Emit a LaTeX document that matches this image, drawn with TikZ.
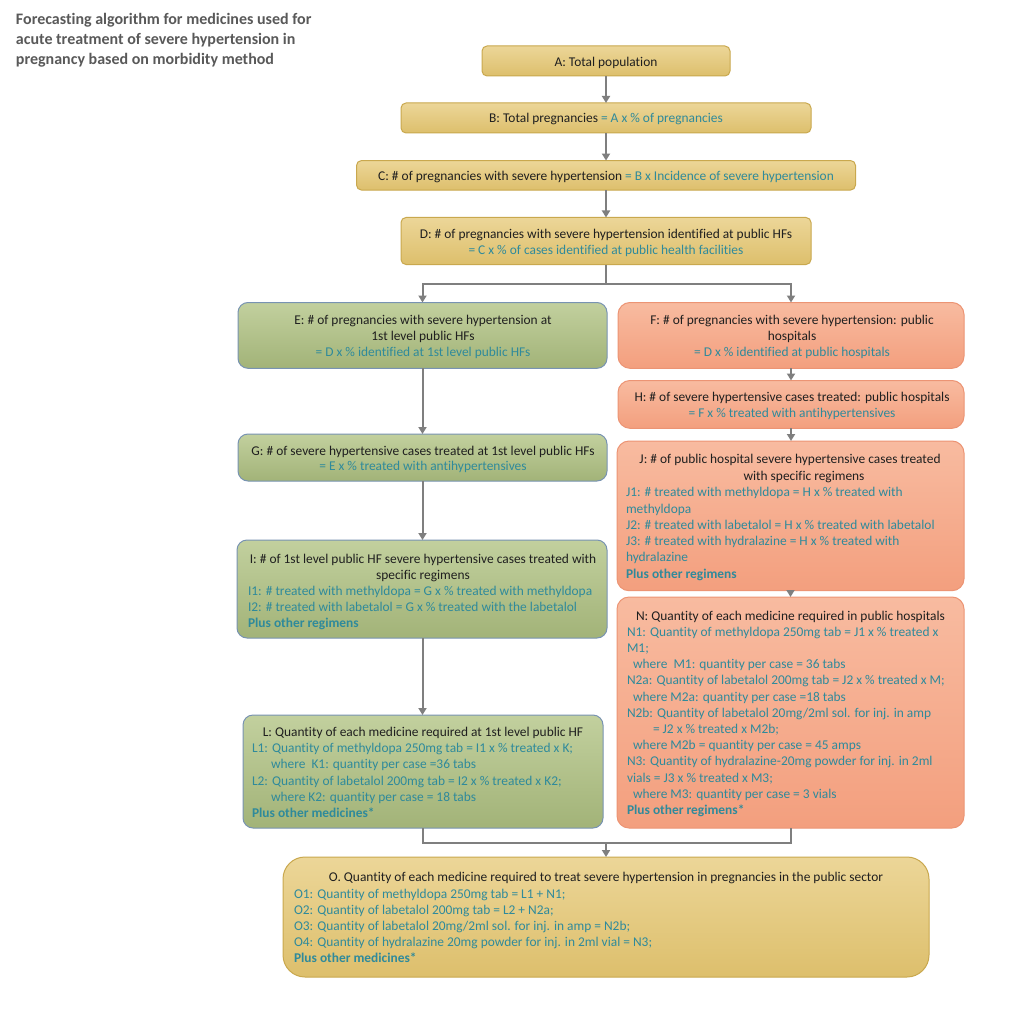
\documentclass[tikz,border=0pt]{standalone}
\usepackage{fontspec}
\setmainfont{Carlito}[Ligatures=NoCommon]
\usetikzlibrary{arrows.meta}
\definecolor{txtblack}{HTML}{1F1F1F}
\definecolor{tealc}{HTML}{2F8A9B}
\definecolor{titlegray}{HTML}{595959}
\definecolor{arrowgray}{HTML}{7F7F7F}
\definecolor{goldT}{HTML}{ECD698}
\definecolor{goldB}{HTML}{DDBF6C}
\definecolor{goldD}{HTML}{C9A84E}
\definecolor{greenT}{HTML}{C2D09E}
\definecolor{greenB}{HTML}{A2B378}
\definecolor{greenD}{HTML}{7893B2}
\definecolor{salT}{HTML}{F8BBA0}
\definecolor{salB}{HTML}{F39F7E}
\definecolor{salD}{HTML}{EC9474}
\tikzset{
  box/.style={inner sep=0pt, outer sep=0pt, line width=1pt},
  goldbox/.style={box, draw=goldD, top color=goldT, bottom color=goldB, rounded corners=5pt},
  obox/.style={box, draw=goldD, top color=goldT, bottom color=goldB, rounded corners=22pt},
  greenbox/.style={box, draw=greenD, top color=greenT, bottom color=greenB, rounded corners=10pt},
  salbox/.style={box, draw=salD, top color=salT, bottom color=salB, rounded corners=12pt},
  txt/.style={inner sep=0pt, outer sep=0pt, text=txtblack, font=\fontsize{13.4}{16.2}\selectfont},
  tl/.style={txt, text=tealc},
  tb/.style={txt, text=tealc, font=\fontsize{13.4}{16.2}\selectfont\bfseries},
  ttl/.style={inner sep=0pt, outer sep=0pt, text=titlegray, font=\fontsize{16}{20}\selectfont\bfseries},
  lnk/.style={draw=arrowgray, line width=2pt},
  conn/.style={lnk, -{Triangle[width=8pt,length=7pt]}},
}
\begin{document}
\begin{tikzpicture}[x=1pt, y=-1pt]
\path[fill=white] (0,0) rectangle (1024,1024);
\useasboundingbox (0,0) rectangle (1024,1024);

% title
\node[ttl, anchor=base west] (t1) at (16,24.5) {Forecasting algorithm for medicines used for};
\node[ttl, anchor=base west] (t2) at (16,44.5) {acute treatment of severe hypertension in};
\node[ttl, anchor=base west] (t3) at (16,64.5) {pregnancy based on morbidity method};

% boxes
\node[goldbox, minimum width=248pt, minimum height=30pt] (A) at (606,61) {};
\node[goldbox, minimum width=410pt, minimum height=30pt] (B) at (606,118) {};
\node[goldbox, minimum width=499pt, minimum height=29.5pt] (C) at (606,175.3) {};
\node[goldbox, minimum width=410pt, minimum height=47pt] (D) at (606,241) {};
\node[greenbox, minimum width=369pt, minimum height=65.8pt] (E) at (422.5,335.4) {};
\node[salbox, minimum width=346pt, minimum height=65.8pt] (F) at (791,335.4) {};
\node[salbox, minimum width=346pt, minimum height=47.8pt] (H) at (791,404.4) {};
\node[greenbox, minimum width=369pt, minimum height=47pt] (G) at (422.5,457.5) {};
\node[salbox, minimum width=347pt, minimum height=149.7pt] (J) at (790.5,515.85) {};
\node[greenbox, minimum width=370pt, minimum height=98pt] (I) at (422,589) {};
\node[salbox, minimum width=347pt, minimum height=231pt] (N) at (790.5,712.5) {};
\node[greenbox, minimum width=360pt, minimum height=113pt] (L) at (423,771.5) {};
\node[obox, minimum width=646pt, minimum height=120pt] (O) at (606,917) {};

% connectors
\draw[conn] (A.south) -- (B.north);
\draw[conn] (B.south) -- (C.north);
\draw[conn] (C.south) -- (D.north);
\coordinate (dj) at (606,284);
\draw[lnk] (D.south) -- (dj);
\draw[conn] (dj) -| (E.north);
\draw[conn] (dj) -| (F.north);
\draw[conn] (E.south) -- (E.south |- G.north);
\draw[conn] (G.south) -- (G.south |- I.north);
\draw[conn] (I.south -| G.south) -- (G.south |- L.north);
\draw[conn] (F.south) -- (H.north);
\draw[conn] (H.south) -- (H.south |- J.north);
\draw[conn] (J.south) -- (N.north);
\coordinate (mj) at (606,843);
\draw[lnk] (L.south) -- (L.south |- mj) -- (N.south |- mj) -- (N.south);
\draw[conn] (mj) -- (O.north);

% A-D texts
\node[txt, anchor=base] (tA) at (606,66.5) {A: Total population};
\node[txt, anchor=base] (tB) at (606,123) {B: Total pregnancies \textcolor{tealc}{= A x \% of pregnancies}};
\node[txt, anchor=base] (tC) at (606,180.5) {C: \# of pregnancies with severe hypertension \textcolor{tealc}{= B x Incidence of severe hypertension}};
\node[txt, anchor=base] (tD1) at (606,238.5) {D: \# of pregnancies with severe hypertension identified at public HFs};
\node[tl, anchor=base] (tD2) at (606,254.5) {= C x \% of cases identified at public health facilities};

% E
\node[txt, anchor=base] (tE1) at (423,324.5) {E: \# of pregnancies with severe hypertension at};
\node[txt, anchor=base] (tE2) at (423,340.5) {1st level public HFs};
\node[tl, anchor=base] (tE3) at (423,356.5) {= D x \% identified at 1st level public HFs};

% F
\node[txt, anchor=base] (tF1) at (792,324.5) {F: \# of pregnancies with severe hypertension: public};
\node[txt, anchor=base] (tF2) at (792,340.5) {hospitals};
\node[tl, anchor=base] (tF3) at (792,356.5) {= D x \% identified at public hospitals};

% H
\node[txt, anchor=base] (tH1) at (792,401) {H: \# of severe hypertensive cases treated: public hospitals};
\node[tl, anchor=base] (tH2) at (792,417.5) {= F x \% treated with antihypertensives};

% G
\node[txt, anchor=base] (tG1) at (423,455) {G: \# of severe hypertensive cases treated at 1st level public HFs};
\node[tl, anchor=base] (tG2) at (423,470.5) {= E x \% treated with antihypertensives};

% J
\node[txt, anchor=base] (tJ1) at (790,463.5) {J: \# of public hospital severe hypertensive cases treated};
\node[txt, anchor=base] (tJ2) at (804,480) {with specific regimens};
\node[tl, anchor=base west] (tJ3) at (626,496.5) {J1: \# treated with methyldopa = H x \% treated with};
\node[tl, anchor=base west] (tJ4) at (626,513) {methyldopa};
\node[tl, anchor=base west] (tJ5) at (626,529) {J2: \# treated with labetalol = H x \% treated with labetalol};
\node[tl, anchor=base west] (tJ6) at (626,545.5) {J3: \# treated with hydralazine = H x \% treated with};
\node[tl, anchor=base west] (tJ7) at (626,561.5) {hydralazine};
\node[tb, anchor=base west] (tJ8) at (626,578) {Plus other regimens};

% I
\node[txt, anchor=base] (tI1) at (423,563) {I: \# of 1st level public HF severe hypertensive cases treated with};
\node[txt, anchor=base] (tI2) at (423,579) {specific regimens};
\node[tl, anchor=base west] (tI3) at (248,595) {I1: \# treated with methyldopa = G x \% treated with methyldopa};
\node[tl, anchor=base west] (tI4) at (248,611) {I2: \# treated with labetalol = G x \% treated with the labetalol};
\node[tb, anchor=base west] (tI5) at (248,627) {Plus other regimens};

% N
\node[txt, anchor=base] (tN0) at (790.5,620) {N: Quantity of each medicine required in public hospitals};
\node[tl, anchor=base west] (tN1) at (627,636.2) {N1: Quantity of methyldopa 250mg tab = J1 x \% treated x};
\node[tl, anchor=base west] (tN2) at (627,652.4) {M1;};
\node[tl, anchor=base west] (tN3) at (633,668.6) {where\ \ M1: quantity per case = 36 tabs};
\node[tl, anchor=base west] (tN4) at (627,684.8) {N2a: Quantity of labetalol 200mg tab = J2 x \% treated x M;};
\node[tl, anchor=base west] (tN5) at (633,701) {where M2a: quantity per case =18 tabs};
\node[tl, anchor=base west] (tN6) at (627,717.2) {N2b: Quantity of labetalol 20mg/2ml sol. for inj. in amp};
\node[tl, anchor=base west] (tN7) at (653,733.4) {= J2 x \% treated x M2b;};
\node[tl, anchor=base west] (tN8) at (633,749.6) {where M2b = quantity per case = 45 amps};
\node[tl, anchor=base west] (tN9) at (627,765.8) {N3: Quantity of hydralazine-20mg powder for inj. in 2ml};
\node[tl, anchor=base west] (tN10) at (627,782) {vials = J3 x \% treated x M3;};
\node[tl, anchor=base west] (tN11) at (633,798.2) {where M3: quantity per case = 3 vials};
\node[tb, anchor=base west] (tN12) at (627,814.4) {Plus other regimens*};

% L
\node[txt, anchor=base] (tL0) at (423,736) {L: Quantity of each medicine required at 1st level public HF};
\node[tl, anchor=base west] (tL1) at (252,752) {L1: Quantity of methyldopa 250mg tab = I1 x \% treated x K;};
\node[tl, anchor=base west] (tL2) at (271,768.5) {where\ \ K1: quantity per case =36 tabs};
\node[tl, anchor=base west] (tL3) at (252,785) {L2: Quantity of labetalol 200mg tab = I2 x \% treated x K2;};
\node[tl, anchor=base west] (tL4) at (271,801) {where K2: quantity per case = 18 tabs};
\node[tb, anchor=base west] (tL5) at (252,817) {Plus other medicines*};

% O
\node[txt, anchor=base] (tO0) at (606,881.5) {O. Quantity of each medicine required to treat severe hypertension in pregnancies in the public sector};
\node[tl, anchor=base west] (tO1) at (294,898) {O1: Quantity of methyldopa 250mg tab = L1 + N1;};
\node[tl, anchor=base west] (tO2) at (294,914) {O2: Quantity of labetalol 200mg tab = L2 + N2a;};
\node[tl, anchor=base west] (tO3) at (294,930) {O3: Quantity of labetalol 20mg/2ml sol. for inj. in amp = N2b;};
\node[tl, anchor=base west] (tO4) at (294,946) {O4: Quantity of hydralazine 20mg powder for inj. in 2ml vial = N3;};
\node[tb, anchor=base west] (tO5) at (294,962) {Plus other medicines*};
\end{tikzpicture}
\end{document}
